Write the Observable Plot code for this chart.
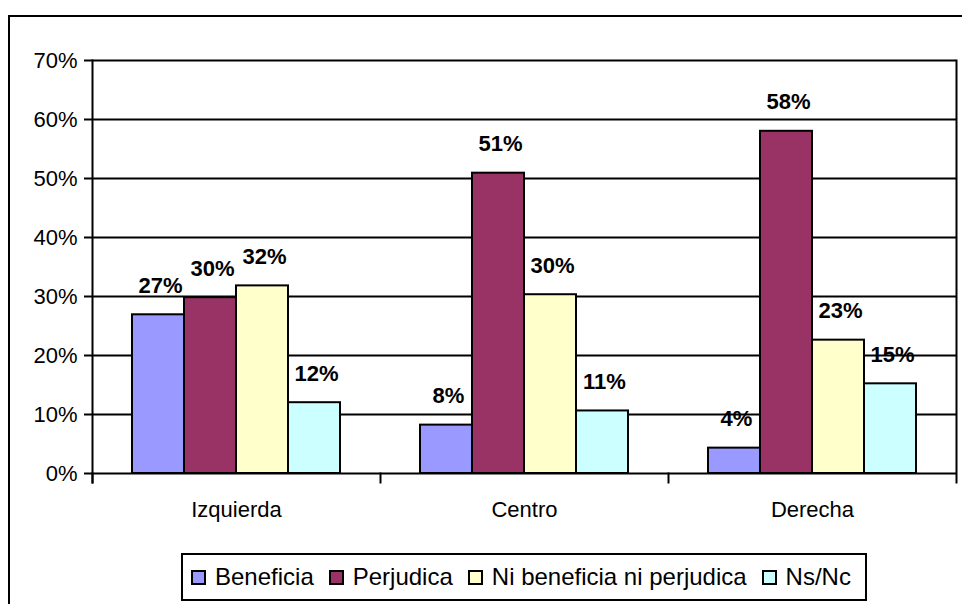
<!DOCTYPE html>
<html>
<head>
<meta charset="utf-8">
<script src="https://cdn.jsdelivr.net/npm/d3@7"></script>
<script src="https://cdn.jsdelivr.net/npm/@observablehq/plot@0.6"></script>
<style>
  html, body { margin: 0; padding: 0; background: #fff; overflow: hidden; }
  #wrap { position: relative; width: 962px; height: 604px; font-family: "Liberation Sans", Arial, sans-serif; }
  #outer { position: absolute; left: 8px; top: 15px; width: 1000px; height: 700px; border: 2px solid #000; box-sizing: border-box; }
  #chart { position: absolute; left: 0; top: 0; }
  #legend { position: absolute; left: 181px; top: 553px; width: 686px; height: 48px; box-sizing: border-box;
            border: 2px solid #000; background: #fff; display: flex; align-items: center; padding-left: 8px; gap: 15px;
            font-size: 24px; color: #000; }
  .item { display: flex; align-items: center; white-space: nowrap; }
  .sw { width: 15px; height: 15px; box-sizing: border-box; border: 2px solid #000; margin-right: 9px; }
</style>
</head>
<body>
<div id="wrap">
  <div id="outer"></div>
  <div id="chart"></div>
  <div id="legend"></div>
</div>
<script>
const categories = ["Izquierda", "Centro", "Derecha"];
const series = ["Beneficia", "Perjudica", "Ni beneficia ni perjudica", "Ns/Nc"];
const colors = ["#9999ff", "#993366", "#ffffcc", "#ccffff"];
const beneficia = [0.269, 0.082, 0.043];
const perjudica = [0.298, 0.509, 0.580];
const niNi      = [0.318, 0.303, 0.226];
const nsnc      = [0.120, 0.106, 0.152];
const yTicks = [0, 0.1, 0.2, 0.3, 0.4, 0.5, 0.6, 0.7];

const values = [beneficia, perjudica, niNi, nsnc];
const data = [];
categories.forEach((cat, i) => {
  series.forEach((s, j) => data.push({cat, series: s, value: values[j][i]}));
});

const W = 962, H = 604, mT = 60, mB = 131, mL = 92, mR = 6;
const innerH = H - mT - mB;
const fmt = d3.format(".0%");

const chart = Plot.plot({
  width: W, height: H,
  marginLeft: mL, marginRight: mR, marginTop: mT, marginBottom: mB,
  style: {fontFamily: "'Liberation Sans', Arial, sans-serif", fontSize: "22px", background: "transparent", color: "#000", overflow: "visible"},
  fx: {domain: categories, padding: 0, label: null},
  x: {domain: series, paddingInner: 0, paddingOuter: 0.74, axis: null},
  y: {domain: [0, 0.7], axis: null},
  color: {domain: series, range: colors},
  marks: [
    Plot.ruleY(yTicks, {stroke: "#000", strokeWidth: 2}),
    Plot.barY(data, {fx: "cat", x: "series", y: "value", fill: "series", stroke: "#000", strokeWidth: 2}),
    Plot.text(data, {fx: "cat", x: "series", y: "value", text: d => fmt(d.value), fontWeight: "bold", fontSize: 22,
                     lineAnchor: "bottom", dy: -22, dx: 2, fill: "#000"}),
    Plot.axisY({ticks: yTicks, tickFormat: fmt, tickSize: 8, tickPadding: 7, strokeWidth: 2, stroke: "#000", fontSize: 22, label: null}),
    Plot.axisFx({anchor: "bottom", tickSize: 0, tickPadding: 28, fontSize: 22, label: null}),
    Plot.frame({anchor: "left", facet: "super", insetBottom: -9, stroke: "#000", strokeWidth: 2}),
    Plot.frame({anchor: "right", facet: "super", insetBottom: -9, stroke: "#000", strokeWidth: 2}),
    Plot.frame({anchor: "left", insetTop: innerH, insetBottom: -9, stroke: "#000", strokeWidth: 2})
  ]
});
document.getElementById("chart").appendChild(chart);

const legend = document.getElementById("legend");
series.forEach((s, j) => {
  const it = document.createElement("div");
  it.className = "item";
  const sw = document.createElement("div");
  sw.className = "sw";
  sw.style.background = colors[j];
  const t = document.createElement("span");
  t.textContent = s;
  it.appendChild(sw); it.appendChild(t);
  legend.appendChild(it);
});
</script>
</body>
</html>
